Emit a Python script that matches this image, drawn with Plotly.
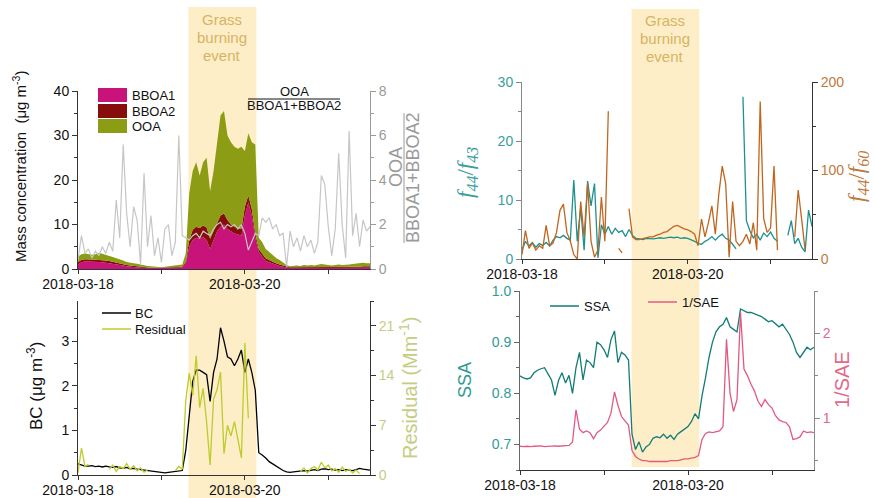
import pandas as pd
import plotly.graph_objects as go

# ---------------- data (hourly values from 2018-03-18 00:00) ----------------
start = "2018-03-18 00:00"
n_hours = 85
time = pd.date_range(start, periods=n_hours, freq="h")

bboa1 = [1.0, 1.5, 1.7, 1.7, 1.6, 1.6, 1.6, 1.5, 1.4, 1.3,
         1.1, 1.0, 0.9, 0.8, 0.6, 0.5, 0.4, 0.4, 0.3, 0.3,
         0.2, 0.2, 0.2, 0.2, 0.2, 0.2, 0.2, 0.2, 0.25, 0.3,
         0.4, 1.2, 5.0, 6.5, 7.0, 6.8, 7.2, 6.5, 4.5, 6.5,
         8.5, 9.5, 10.0, 9.0, 8.5, 8.0, 7.8, 7.5, 12.0, 15.0,
         12.0, 7.0, 3.8, 2.8, 1.8, 1.5, 1.2, 0.9, 0.7, 0.5,
         0.3, 0.2, 0.2, 0.2, 0.2, 0.2, 0.2, 0.2, 0.2, 0.2,
         0.2, 0.2, 0.2, 0.2, 0.2, 0.2, 0.2, 0.2, 0.2, 0.2,
         0.2, 0.2, 0.3, 0.3, 0.3]
bboa2 = [0.6, 0.6, 0.5, 0.5, 0.5, 0.5, 0.4, 0.5, 0.5, 0.5,
         0.5, 0.4, 0.4, 0.3, 0.3, 0.3, 0.3, 0.2, 0.2, 0.2,
         0.2, 0.1, 0.1, 0.1, 0.1, 0.1, 0.1, 0.15, 0.15, 0.15,
         0.15, 0.4, 1.5, 2.3, 2.5, 2.4, 2.6, 2.8, 2.3, 2.0,
         2.0, 2.5, 2.5, 2.0, 1.5, 1.5, 1.4, 1.5, 2.0, 1.5,
         1.5, 1.0, 0.7, 0.6, 0.6, 0.5, 0.4, 0.4, 0.3, 0.3,
         0.2, 0.2, 0.2, 0.2, 0.2, 0.2, 0.2, 0.2, 0.2, 0.2,
         0.2, 0.2, 0.2, 0.2, 0.2, 0.2, 0.2, 0.2, 0.2, 0.3,
         0.3, 0.3, 0.3, 0.3, 0.3]
ooa = [1.2, 1.2, 1.3, 1.1, 1.1, 1.2, 1.6, 1.4, 1.3, 1.2,
       1.1, 1.0, 0.9, 0.8, 0.7, 0.6, 0.6, 0.6, 0.5, 0.4,
       0.3, 0.3, 0.2, 0.2, 0.1, 0.2, 0.3, 0.35, 0.4, 0.35,
       0.45, 1.9, 10.5, 13.2, 14.5, 11.8, 14.2, 15.7, 10.7, 13.5,
       17.5, 22.5, 23.0, 19.0, 18.5, 18.0, 17.8, 18.5, 12.5, 14.0,
       15.0, 20.0, 2.5, 2.6, 2.1, 1.8, 1.4, 1.2, 1.0, 0.7,
       0.4, 0.2, 0.3, 0.4, 0.3, 0.5, 0.4, 0.5, 0.4, 0.6,
       0.7, 0.6, 0.5, 0.4, 0.5, 0.6, 0.5, 0.5, 0.6, 0.6,
       0.7, 0.7, 0.8, 0.7, 0.7]
ratio = [0.4, 1.5, 0.7, 0.9, 0.5, 0.8, 0.6, 1.0, 0.7, 1.2,
         0.8, 3.1, 1.4, 5.6, 2.5, 1.0, 2.8, 2.2, 0.2, 4.3,
         1.0, 2.4, 0.6, 1.4, 0.3, 1.8, 2.0, 0.6, 1.2, 6.0,
         1.5, 1.4, 1.3, 1.5, 1.6, 1.4, 1.7, 1.6, 1.5, 1.8,
         2.0, 2.1, 1.8, 2.0, 1.9, 2.0, 1.8, 2.0, 1.6, 0.85,
         1.2, 1.6, 1.5, 2.3, 2.1, 2.3, 1.8, 2.0, 1.5, 1.6,
         0.1, 1.7, 1.0, 1.4, 0.8, 1.5, 1.0, 1.3, 0.7, 1.2,
         4.2, 3.8, 1.9, 0.6, 1.8, 5.2, 2.0, 0.5, 6.2, 1.5,
         2.5, 1.0, 2.2, 1.7, 1.9]

bc = [0.25, 0.22, 0.2, 0.2, 0.21, 0.19, 0.2, 0.18, 0.2, 0.18,
      0.17, 0.19, 0.16, 0.15, 0.17, 0.14, 0.15, 0.13, 0.12, 0.1,
      0.1, 0.08, 0.07, 0.06, 0.06, 0.05, 0.06, 0.07, 0.08, 0.09,
      0.1, 0.55, 1.3, 2.1, 2.35, 2.35, 2.3, 2.25, 1.65, 2.3,
      2.6, 3.3, 3.0, 2.65, 2.6, 2.45, 2.6, 2.8, 2.3, 2.6,
      2.3, 1.9, 0.5, 0.45, 0.38, 0.3, 0.25, 0.2, 0.15, 0.1,
      0.07, 0.06, 0.07, 0.08, 0.08, 0.1, 0.09, 0.11, 0.12, 0.1,
      0.13, 0.14, 0.12, 0.13, 0.11, 0.12, 0.1, 0.12, 0.11, 0.1,
      0.12, 0.15, 0.13, 0.12, 0.11]
N = None
residual = [0.3, 3.8, 1.2, 1.5, N, N, N, N, N, 0.8,
            1.4, 0.5, 1.2, 0.9, 1.6, 0.8, 1.3, 0.6, 1.0, 0.4,
            0.7, N, N, N, N, N, N, N, 0.6, 1.2,
            0.8, 10.5, 14.3, 11.2, 16.8, 9.5, 12.2, 7.4, 1.4, 10.7,
            12.0, 14.5, 3.0, 7.0, 5.5, 7.5, 5.0, 2.4, 18.6, 8.0,
            N, N, N, N, N, N, N, N, N, N,
            N, N, N, N, 0.5, 1.0, 0.3, 0.9, 1.2, 0.7,
            1.8, 1.0, 1.4, 0.6, 0.9, 0.4, 1.1, 0.5, 0.8, 0.3,
            0.7, 0.2, N, N, N]

f44_f43 = [1.5, 3.0, 2.2, 2.8, 2.0, 2.6, 2.3, 2.8, 2.2, 3.2,
           3.8, 3.6, 4.0, 3.5, 3.2, 13.4, 3.0, 8.8, 1.5, 13.2,
           9.0, 12.8, 0.2, 5.8, 4.2, 5.5, 4.2, 5.2, 4.5, 4.8,
           3.8, 5.0, 4.0, 3.5, 3.4, 3.3, 3.5, 3.4, 3.4, 3.5,
           3.6, 3.5, 3.6, 3.7, 3.6, 3.7, 3.5, 3.6, 3.5, 3.3,
           3.0, 2.6, 2.5, 3.0, 3.3, 3.8, 3.2, 3.8, 4.2, 3.5,
           3.2, 2.5, 1.7, N, 27.5, 6.5, 4.8, 3.6, 4.2, 3.2,
           4.4, 3.8, 4.6, 3.5, 3.0, N, N, 4.0, 6.5, 2.6,
           3.5, 2.0, 1.2, 8.3, 5.5]
f44_f60 = [5, 32, 12, 18, 10, 15, 12, 38, 15, 18,
           30, 55, 62, 30, 20, 5, 0, 65, 25, 85,
           20, 2, 10, 70, 20, 167, N, N, 12, 7,
           N, 57, 25, 22, 22, 23, 24, 25, 25, 27,
           28, 30, 31, 34, 37, 38, 36, 34, 33, 31,
           28, 15, 45, 25, 41, 60, 28, 73, 105, 85,
           2, 65, 20, 15, 20, 28, 17, 41, 10, 178,
           46, 30, 35, 105, 10, N, N, N, N, 25,
           78, 45, 10, N, N]

ssa = [0.834, 0.83, 0.828, 0.83, 0.84, 0.845, 0.848, 0.85, 0.838, 0.826,
       0.796, 0.825, 0.84, 0.82, 0.835, 0.80, 0.85, 0.88, 0.826, 0.865,
       0.86, 0.85, 0.90, 0.895, 0.885, 0.87, 0.905, 0.922, 0.86, 0.88,
       0.875, 0.865, 0.72, 0.69, 0.705, 0.685, 0.695, 0.70, 0.712, 0.715,
       0.713, 0.72, 0.712, 0.718, 0.71, 0.72, 0.725, 0.73, 0.735, 0.745,
       0.76, 0.75, 0.795, 0.83, 0.87, 0.90, 0.92, 0.93, 0.935, 0.948,
       0.93, 0.925, 0.92, 0.965, 0.962, 0.958, 0.958, 0.955, 0.952, 0.95,
       0.945, 0.94, 0.942, 0.935, 0.93, 0.935, 0.925, 0.915, 0.90, 0.88,
       0.87, 0.88, 0.89, 0.885, 0.89]
inv_sae = [0.67, 0.665, 0.67, 0.665, 0.67, 0.67, 0.675, 0.665, 0.67, 0.67,
           0.675, 0.67, 0.675, 0.68, 0.68, 0.72, 1.1, 0.87, 0.83, 0.85,
           0.83, 0.76, 0.83, 0.86, 0.9, 0.95, 1.06, 1.31, 1.15, 1.02,
           0.97, 0.92, 0.62, 0.55, 0.52, 0.5, 0.5, 0.49, 0.49, 0.49,
           0.49, 0.49, 0.49, 0.5, 0.5, 0.5, 0.51, 0.52, 0.52, 0.53,
           0.54, 0.56, 0.75, 0.82, 0.84, 0.83, 0.84, 0.85, 0.9, 1.93,
           1.3, 1.08, 1.22, 2.25, 1.58, 1.5, 1.4, 1.32, 1.2, 1.14,
           1.22, 1.16, 1.12, 1.03, 0.98, 0.96, 0.95, 0.9, 0.75, 0.76,
           0.78, 0.85, 0.83, 0.84, 0.83]

event_start = "2018-03-19 07:45"
event_end = "2018-03-20 03:20"
x_range = ["2018-03-18 00:00", "2018-03-21 12:00"]
x_ticks = ["2018-03-18", "2018-03-20"]

# ---------------- styling ----------------
W, H = 875, 498
FONT = "Arial, Liberation Sans, sans-serif"
C_B1, C_B2, C_OOA, C_RAT = "#c8137a", "#870c0c", "#8c9c14", "#c6c6c6"
C_RES, C_RES_T = "#bccc2a", "#c6cd82"
C_T43, C_T43_T = "#1e9090", "#3a9e9e"
C_T60, C_T60_T = "#c0661e", "#bd7a3e"
C_SSA, C_SSA_T = "#137c76", "#329a92"
C_SAE, C_SAE_T = "#e15a80", "#e06a8c"
SHADE, SHADE_T = "#fdeec8", "#d6b462"


def px(x):
    return x / W


def py(y):
    return 1 - y / H


fig = go.Figure()

# top-left: stacked areas + ratio
for name, vals, col in [("BBOA1", bboa1, C_B1), ("BBOA2", bboa2, C_B2), ("OOA", ooa, C_OOA)]:
    fig.add_trace(go.Scatter(x=time, y=vals, name=name, stackgroup="tl", mode="lines",
                             line=dict(width=0, color=col), fillcolor=col,
                             xaxis="x", yaxis="y", showlegend=False))
fig.add_trace(go.Scatter(x=time, y=ratio, mode="lines", line=dict(color=C_RAT, width=1.2),
                         xaxis="x", yaxis="y2", showlegend=False))
# bottom-left
fig.add_trace(go.Scatter(x=time, y=bc, mode="lines", line=dict(color="black", width=1.3),
                         xaxis="x2", yaxis="y3", showlegend=False))
fig.add_trace(go.Scatter(x=time, y=residual, mode="lines", line=dict(color=C_RES, width=1.3),
                         xaxis="x2", yaxis="y4", showlegend=False))
# top-right
fig.add_trace(go.Scatter(x=time, y=f44_f43, mode="lines", line=dict(color=C_T43, width=1.3),
                         xaxis="x3", yaxis="y5", showlegend=False))
fig.add_trace(go.Scatter(x=time, y=f44_f60, mode="lines", line=dict(color=C_T60, width=1.3),
                         xaxis="x3", yaxis="y6", showlegend=False))
# bottom-right
fig.add_trace(go.Scatter(x=time, y=ssa, mode="lines", line=dict(color=C_SSA, width=1.3),
                         xaxis="x4", yaxis="y7", showlegend=False))
fig.add_trace(go.Scatter(x=time, y=inv_sae, mode="lines", line=dict(color=C_SAE, width=1.3),
                         xaxis="x4", yaxis="y8", showlegend=False))


def xax(domain, anchor):
    return dict(domain=domain, anchor=anchor, type="date", range=x_range,
                tickvals=x_ticks, tickformat="%Y-%m-%d", automargin=False,
                showline=True, linecolor="#333", linewidth=1, ticks="outside",
                ticklen=4, tickcolor="#333", tickfont=dict(size=14, color="#111"),
                ticklabelstandoff=-2,
                showgrid=False, zeroline=False,
                minor=dict(ticks="outside", ticklen=4, tickcolor="#333", dtick=86400000,
                           tick0="2018-03-18", showgrid=False))


def yax(rng, dtick, mdtick, tcol, lcol, domain=None, anchor=None, overlay=None,
        side="left", fmt=None, tick0=0):
    d = dict(range=rng, dtick=dtick, tick0=tick0, side=side, showline=True, linecolor=lcol,
             linewidth=1, ticks="outside", ticklen=5, tickcolor=lcol, automargin=False,
             tickfont=dict(size=14, color=tcol), showgrid=False, zeroline=False,
             minor=dict(ticks="outside", ticklen=3, tickcolor=lcol, dtick=mdtick,
                        tick0=tick0, showgrid=False))
    if domain is not None:
        d["domain"] = domain
    if anchor is not None:
        d["anchor"] = anchor
    if overlay is not None:
        d["overlaying"] = overlay
    if fmt:
        d["tickformat"] = fmt
    return d


dx_left = [px(78), px(370)]
dx_tr = [px(522), px(812)]
dx_br = [px(520), px(814)]

fig.update_layout(
    xaxis=xax(dx_left, "y"),
    xaxis2=xax(dx_left, "y3"),
    xaxis3=xax(dx_tr, "y5"),
    xaxis4=xax(dx_br, "y7"),
    yaxis=yax([0, 40], 10, 5, "#111", "#333", domain=[py(269), py(91)], anchor="x"),
    yaxis2=yax([0, 8], 2, 1, "#9a9a9a", "#9a9a9a", anchor="x", overlay="y", side="right"),
    yaxis3=yax([0, 3.9], 1, 0.5, "#111", "#333", domain=[py(475), py(301)], anchor="x2"),
    yaxis4=yax([0, 24.5], 7, 3.5, C_RES_T, "#333", anchor="x2", overlay="y3", side="right"),
    yaxis5=yax([0, 30], 10, 5, C_T43_T, "#888", domain=[py(259), py(82)], anchor="x3"),
    yaxis6=yax([0, 200], 100, 50, C_T60_T, "#333", anchor="x3", overlay="y5", side="right"),
    yaxis7=yax([0.65, 1.0], 0.1, 0.05, C_SSA_T, "#666", domain=[py(470), py(291)],
               anchor="x4", fmt=".1f", tick0=0.7),
    yaxis8=yax([0.39, 2.5], 1, 0.5, C_SAE_T, "#888", anchor="x4", overlay="y7", side="right"),
)

shapes = []
annotations = []

# event shading
shapes.append(dict(type="rect", xref="x", yref="paper", x0=event_start, x1=event_end,
                   y0=0, y1=py(7), fillcolor=SHADE, line=dict(width=0), layer="below"))
shapes.append(dict(type="rect", xref="x3", yref="paper", x0=event_start, x1=event_end,
                   y0=py(467), y1=py(9), fillcolor=SHADE, line=dict(width=0), layer="below"))
for xr, ys in [("x", [19, 37, 55]), ("x3", [21, 39, 57])]:
    for word, yy in zip(["Grass", "burning", "event"], ys):
        annotations.append(dict(xref=xr, yref="paper", x="2018-03-19 17:30", y=py(yy),
                                text=word, showarrow=False, xanchor="center", yanchor="middle",
                                font=dict(size=15, color=SHADE_T, family=FONT)))

# legend: top-left
for (name, col), (y0, y1) in zip([("BBOA1", C_B1), ("BBOA2", C_B2), ("OOA", C_OOA)],
                                 [(88, 102), (104, 118), (119, 133)]):
    shapes.append(dict(type="rect", xref="paper", yref="paper", x0=px(98), x1=px(127),
                       y0=py(y1), y1=py(y0), fillcolor=col, line=dict(width=0)))
    annotations.append(dict(xref="paper", yref="paper", x=px(130), y=py((y0 + y1) / 2),
                            text=name, showarrow=False, xanchor="left", yanchor="middle",
                            font=dict(size=13, color="#111", family=FONT)))
# legend: bottom-left
for name, col, yy in [("BC", "black", 313), ("Residual", C_RES, 329)]:
    shapes.append(dict(type="line", xref="paper", yref="paper", x0=px(102), x1=px(131),
                       y0=py(yy), y1=py(yy), line=dict(color=col, width=1.5)))
    annotations.append(dict(xref="paper", yref="paper", x=px(133), y=py(yy), text=name,
                            showarrow=False, xanchor="left", yanchor="middle",
                            font=dict(size=13, color="#111", family=FONT)))
# legend: bottom-right
for name, col, x0, yy in [("SSA", C_SSA, 550, 306), ("1/SAE", C_SAE, 648, 302)]:
    shapes.append(dict(type="line", xref="paper", yref="paper", x0=px(x0), x1=px(x0 + 29),
                       y0=py(yy), y1=py(yy), line=dict(color=col, width=1.5)))
    annotations.append(dict(xref="paper", yref="paper", x=px(x0 + 32), y=py(yy), text=name,
                            showarrow=False, xanchor="left", yanchor="middle",
                            font=dict(size=13, color="#111", family=FONT)))

# fraction label inside top-left plot
annotations.append(dict(xref="paper", yref="paper", x=px(294), y=py(92), text="OOA",
                        showarrow=False, xanchor="center", yanchor="middle",
                        font=dict(size=13, color="#111", family=FONT)))
annotations.append(dict(xref="paper", yref="paper", x=px(294), y=py(106), text="BBOA1+BBOA2",
                        showarrow=False, xanchor="center", yanchor="middle",
                        font=dict(size=13, color="#111", family=FONT)))
shapes.append(dict(type="line", xref="paper", yref="paper", x0=px(248), x1=px(340),
                   y0=py(99), y1=py(99), line=dict(color="#111", width=1)))
# rotated fraction: right axis title of top-left
annotations.append(dict(xref="paper", yref="paper", x=px(396), y=py(167), text="OOA",
                        textangle=-90, showarrow=False, xanchor="center", yanchor="middle",
                        font=dict(size=18, color="#9a9a9a", family=FONT)))
annotations.append(dict(xref="paper", yref="paper", x=px(413), y=py(178), text="BBOA1+BBOA2",
                        textangle=-90, showarrow=False, xanchor="center", yanchor="middle",
                        font=dict(size=18, color="#9a9a9a", family=FONT)))
shapes.append(dict(type="line", xref="paper", yref="paper", x0=px(404), x1=px(404),
                   y0=py(243), y1=py(113), line=dict(color="#9a9a9a", width=1)))

# axis titles
def vtitle(x, y, text, size, color, family=FONT):
    annotations.append(dict(xref="paper", yref="paper", x=px(x), y=py(y), text=text,
                            textangle=-90, showarrow=False, xanchor="center",
                            yanchor="middle", font=dict(size=size, color=color, family=family)))


vtitle(20, 167, "Mass concentration  (μg m<sup>-3</sup>)", 15, "#111")
vtitle(35, 386, "BC (μg m<sup>-3</sup>)", 17, "#111")
vtitle(408, 388, "Residual (Mm<sup>-1</sup>)", 20, C_RES_T)
vtitle(467, 173, "<i>f</i><sub><i>44</i></sub>/<i>f</i><sub><i>43</i></sub>", 23,
       C_T43_T, "Liberation Serif, Times New Roman, serif")
vtitle(858, 177, "<i>f</i><sub><i>44</i></sub>/<i>f</i><sub><i>60</i></sub>", 23,
       C_T60_T, "Liberation Serif, Times New Roman, serif")
vtitle(465, 380, "SSA", 18, C_SSA_T)
vtitle(842, 380, "1/SAE", 20, C_SAE_T)

fig.update_layout(
    width=W, height=H, autosize=False,
    margin=dict(l=0, r=0, t=0, b=0),
    paper_bgcolor="white", plot_bgcolor="rgba(0,0,0,0)",
    font=dict(family=FONT, size=14, color="#111"),
    shapes=shapes, annotations=annotations, showlegend=False,
)

fig.write_html("out.html")
